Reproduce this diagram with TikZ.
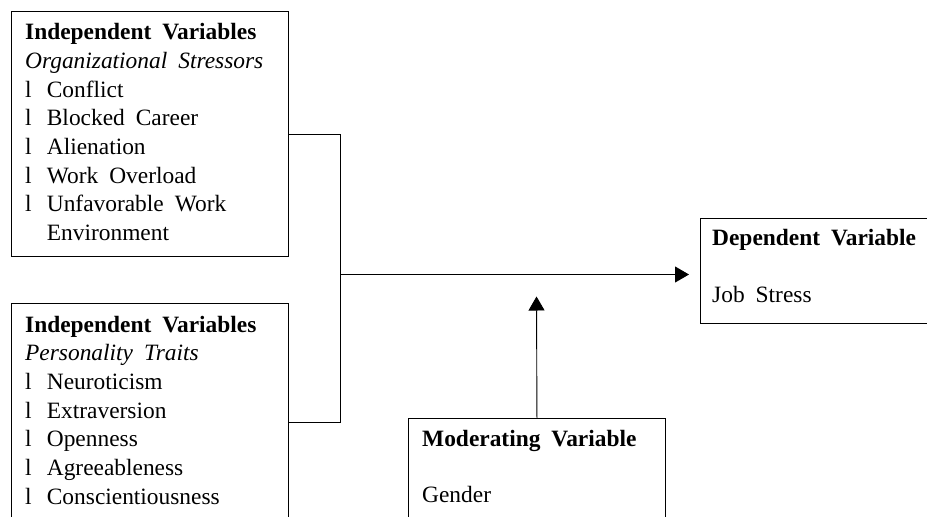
\documentclass[tikz,border=0pt]{standalone}
\usepackage{fontspec}
\setmainfont{Liberation Serif}
\usetikzlibrary{arrows.meta}
\newcommand{\bul}[1]{\makebox[21.7pt][l]{l}#1}
\newcommand{\widesp}{\spaceskip=11pt plus 1pt\relax}

\begin{document}
\begin{tikzpicture}[x=1pt, y=-1pt,
  box/.style={draw, line width=0.9pt, anchor=north west, inner sep=0pt},
  txt/.style={anchor=north west, align=left, inner sep=0pt,
    font=\fontsize{23.4}{28.7}\selectfont\widesp},
  arr/.style={-{Triangle[length=14pt,width=16pt]}, line width=0.9pt},
  link/.style={line width=0.9pt}]

\useasboundingbox (0,0) rectangle (927,517);

% variable boxes
\node[box, minimum width=277pt, minimum height=245pt] (org) at (11,11) {};
\node[box, minimum width=277pt, minimum height=237pt] (pers) at (11,303) {};
\node[box, minimum width=240pt, minimum height=105pt] (dep) at (700,217.5) {};
\node[box, minimum width=257pt, minimum height=130pt] (mod) at (408,418) {};

\node[txt] (orgtxt) at (25,23.3) {\textbf{Independent Variables}\\
  \textit{Organizational Stressors}\\
  \bul{Conflict}\\
  \bul{Blocked Career}\\
  \bul{Alienation}\\
  \bul{Work Overload}\\
  \bul{Unfavorable Work}\\
  \hspace*{21.7pt}Environment};
\node[txt] (perstxt) at (25,315.7) {\textbf{Independent Variables}\\
  \textit{Personality Traits}\\
  \bul{Neuroticism}\\
  \bul{Extraversion}\\
  \bul{Openness}\\
  \bul{Agreeableness}\\
  \bul{Conscientiousness}};
\node[txt] (deptxt) at (712,229) {\textbf{Dependent Variable}\\[28.5pt]Job Stress};
\node[txt] (modtxt) at (422,430) {\textbf{Moderating Variable}\\[27pt]Gender};

% connectors
\coordinate (join) at (340,274.5);
\coordinate (deptip) at (689,274.5);
\coordinate (modtip) at (536.5,296.5);
\draw[link] (org.east) -| (join);
\draw[link] (pers.east) -| (join);
\draw[arr] (join) -- (deptip);
\draw[arr] (mod.north) -- (modtip);
\end{tikzpicture}
\end{document}
